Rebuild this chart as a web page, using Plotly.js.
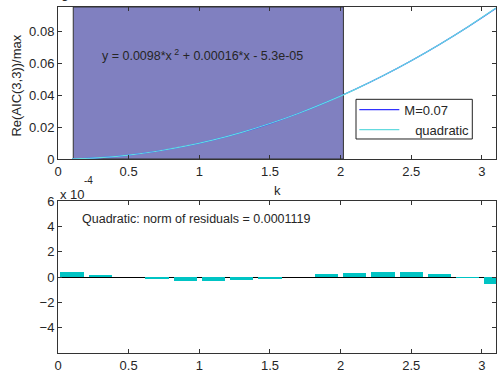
<!DOCTYPE html>
<html>
<head>
<meta charset="utf-8">
<script src="https://cdn.plot.ly/plotly-3.0.1.min.js"></script>
<style>
html,body{margin:0;padding:0;background:#fff;}
#chart{width:497px;height:374px;}
</style>
</head>
<body>
<div id="chart"></div>
<script>
// k values (sample points)
const kValues = [0.1, 0.3, 0.5, 0.7, 0.9, 1.1, 1.3, 1.5, 1.7, 1.9, 2.1, 2.3, 2.5, 2.7, 2.9, 3.1];
// data series M=0.07 (Re(AIC(3,3))/max)
const dataValues = [0.00010, 0.00090, 0.00248, 0.00484, 0.00800, 0.01195, 0.01669, 0.02222, 0.02854, 0.03565, 0.04353, 0.05220, 0.06164, 0.07185, 0.08282, 0.09456];
// quadratic fit values
const fitValues = [0.00006, 0.00088, 0.00248, 0.00486, 0.00803, 0.01198, 0.01672, 0.02224, 0.02854, 0.03563, 0.04350, 0.05216, 0.06160, 0.07182, 0.08283, 0.09462];
// residuals (x 1e-4)
const residuals = [0.42, 0.18, 0.01, -0.16, -0.29, -0.29, -0.24, -0.19, -0.01, 0.20, 0.34, 0.42, 0.42, 0.26, -0.11, -0.58];
// shaded interval on k
const shadeRange = [0.108, 2.02];
const xTicks = [0, 0.5, 1, 1.5, 2, 2.5, 3];
const yTicksTop = [0, 0.02, 0.04, 0.06, 0.08];
const yTicksBottom = [-4, -2, 0, 2, 4, 6];

const FONT = 'Liberation Sans, Arial, sans-serif';
const TXT = '#262626';
const AX = '#333333';

const traces = [
  {x: kValues, y: dataValues, type: 'scatter', mode: 'lines', name: 'M=0.07',
   line: {color: 'rgb(50,50,255)', width: 1.2, shape: 'spline'}, xaxis: 'x', yaxis: 'y'},
  {x: kValues, y: fitValues, type: 'scatter', mode: 'lines', name: '\u00a0\u00a0\u00a0quadratic',
   line: {color: 'rgb(100,218,222)', width: 1.2, shape: 'spline'}, xaxis: 'x', yaxis: 'y'},
  {x: kValues, y: residuals, type: 'bar', width: 0.165, showlegend: false,
   marker: {color: 'rgb(0,196,196)', line: {width: 0}}, xaxis: 'x2', yaxis: 'y2'}
];

const axBase = {
  showline: true, linecolor: AX, linewidth: 1, mirror: 'ticks',
  ticks: 'inside', ticklen: 4, tickcolor: AX, tickwidth: 1,
  showgrid: false, zeroline: false,
  tickfont: {family: FONT, size: 13, color: TXT}
};

const layout = {
  width: 497, height: 374,
  margin: {l: 58, r: 1, t: 7, b: 21},
  paper_bgcolor: '#fff', plot_bgcolor: '#fff',
  font: {family: FONT, size: 12, color: TXT},
  bargap: 0,
  xaxis: Object.assign({}, axBase, {range: [0, 3.1], tickvals: xTicks, anchor: 'y', domain: [0, 1]}),
  yaxis: Object.assign({}, axBase, {range: [0, 0.0953], tickvals: yTicksTop, anchor: 'x', domain: [0.5607, 1]}),
  xaxis2: Object.assign({}, axBase, {range: [0, 3.1], tickvals: xTicks, anchor: 'y2', domain: [0, 1]}),
  yaxis2: Object.assign({}, axBase, {range: [-6, 6], tickvals: yTicksBottom, anchor: 'x2', domain: [0, 0.4393],
    zeroline: true, zerolinecolor: '#000', zerolinewidth: 1}),
  shapes: [
    {type: 'rect', xref: 'x', yref: 'y domain', x0: shadeRange[0], x1: shadeRange[1], y0: 0, y1: 1,
     fillcolor: 'rgb(128,128,192)', line: {color: '#333', width: 1}, layer: 'below'},
    {type: 'rect', xref: 'paper', yref: 'paper', x0: 0.6804, x1: 0.9459, y0: 0.6185, y1: 0.7332,
     fillcolor: '#fff', line: {color: '#222', width: 1}, layer: 'above'}
  ],
  legend: {x: 0.6765, y: 0.7465, xanchor: 'left', yanchor: 'top', xref: 'paper', yref: 'paper',
    bgcolor: 'rgba(0,0,0,0)', borderwidth: 0, itemwidth: 40,
    font: {family: FONT, size: 13, color: TXT}, tracegroupgap: 0},
  annotations: [
    {text: 'y = 0.0098*x<sup> 2</sup> + 0.00016*x - 5.3e-05', xref: 'x', yref: 'y', x: 0.30, y: 0.0655,
     xanchor: 'left', yanchor: 'middle', showarrow: false, font: {family: FONT, size: 12.5, color: TXT}},
    {text: 'Quadratic: norm of residuals = 0.0001119', xref: 'x2', yref: 'y2', x: 0.155, y: 4.55,
     xanchor: 'left', yanchor: 'middle', showarrow: false, font: {family: FONT, size: 12.5, color: TXT}},
    {text: 'x 10', xref: 'paper', yref: 'paper', x: -0.001, y: 0.4595,
     xanchor: 'left', yanchor: 'middle', showarrow: false, font: {family: FONT, size: 13, color: TXT}},
    {text: '-4', xref: 'paper', yref: 'paper', x: 0.054, y: 0.498,
     xanchor: 'left', yanchor: 'middle', showarrow: false, font: {family: FONT, size: 10, color: TXT}},
    {text: 'k', xref: 'paper', yref: 'paper', x: 0.5, y: 0.4705,
     xanchor: 'center', yanchor: 'middle', showarrow: false, font: {family: FONT, size: 13, color: TXT}},
    {text: 'Re(AIC(3,3))/max', xref: 'paper', yref: 'paper', x: -0.095, y: 0.774, textangle: -90,
     xanchor: 'center', yanchor: 'middle', showarrow: false, font: {family: FONT, size: 13, color: TXT}},
    {text: 'g', xref: 'paper', yref: 'paper', x: 0.002, y: 1.0116,
     xanchor: 'left', yanchor: 'bottom', showarrow: false, font: {family: FONT, size: 14, color: TXT}}
  ]
};

Plotly.newPlot('chart', traces, layout, {staticPlot: true, displayModeBar: false});
</script>
</body>
</html>
